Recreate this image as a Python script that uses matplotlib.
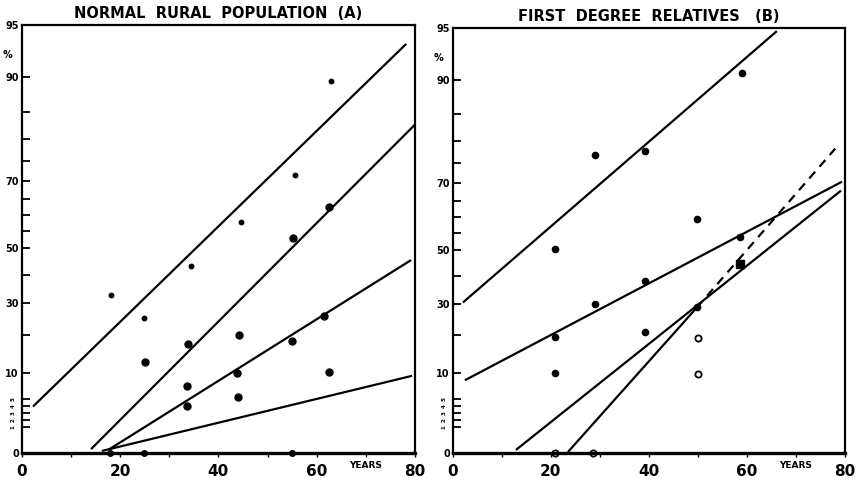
import numpy as np
import matplotlib
matplotlib.use('Agg')
from matplotlib import pyplot as plt

plt.rcParams['font.family'] = ['DejaVu Sans']
plt.rcParams['font.weight'] = 'bold'

# 手绘的概率纵轴: 百分数 -> 纸面高度
pct_knots = [0, 1, 2, 3, 4, 5, 10, 20, 30, 40, 50, 55, 60, 65, 70, 75, 80, 85, 90, 95]
pos_knots = [0, 26, 33, 40, 47, 54, 80, 118, 149, 177, 204, 221, 237, 253, 271, 291, 313, 340, 374, 426]

def fwd(y):
    return np.interp(y, pct_knots, pos_knots)

def inv(y):
    return np.interp(y, pos_knots, pct_knots)

major_pct = [0, 10, 30, 50, 70, 90, 95]
minor_pct = [1, 2, 3, 4, 5, 20, 40, 55, 60, 65, 75, 80, 85]
small_pct = [1, 2, 3, 4, 5]
age_ticks = [0, 20, 40, 60, 80]

# A: 正常农村人口
a_small_age = [18.2, 24.9, 34.4, 44.6, 55.6, 62.9]
a_small_pct = [32.9, 25.2, 43.3, 57.8, 71.5, 89.4]
a_dot_age = [25.1, 33.8, 44.2, 55.2, 62.5, 33.6, 43.8, 55.0, 61.5, 33.6, 44.0, 62.5]
a_dot_pct = [12.9, 17.6, 20.0, 52.9, 62.5, 4.0, 10.0, 18.2, 25.8, 7.5, 5.4, 10.2]
a_zero_age = [18.0, 24.9, 55.0]
a_zero_pct = [0, 0, 0]
# 拟合直线 (起点, 终点)
a_line_age = [[2.3, 78.2], [14.1, 80.0], [17.6, 79.2], [16.3, 79.4]]
a_line_pct = [[3.9, 93.2], [0.15, 82.6], [0.12, 45.6], [0.08, 9.4]]

# B: 一级亲属
b_dot_age = [59.0, 39.3, 29.0, 20.9, 49.8, 58.6, 39.2, 29.0, 20.9, 39.2, 49.8, 20.9]
b_dot_pct = [90.7, 77.7, 76.8, 50.2, 59.1, 53.8, 38.2, 30.0, 19.5, 21.0, 29.0, 10.0]
b_open_age = [50.0, 50.0, 20.9, 28.7]
b_open_pct = [19.2, 9.9, 0, 0]
b_sq_age = [58.6]
b_sq_pct = [44.8]
b_line_age = [[2.1, 66.1], [2.5, 79.4], [12.9, 79.2], [23.5, 49.8]]
b_line_pct = [[30.7, 94.7], [8.65, 70.25], [0.12, 67.8], [0.04, 29.0]]
b_dash_age = [49.8, 78.0]
b_dash_pct = [29.0, 78.2]


def setup(ax, title):
    ax.set_yscale('function', functions=(fwd, inv))
    ax.set_xlim(0, 80)
    ax.set_ylim(0, 95)
    for s in ax.spines.values():
        s.set_linewidth(1.6)
    ax.spines['bottom'].set_linewidth(2.4)
    ax.set_yticks(major_pct)
    ax.set_yticklabels([str(v) for v in major_pct], fontsize=7, fontweight='bold')
    ax.set_yticks(minor_pct, minor=True)
    ax.yaxis.set_minor_formatter(plt.NullFormatter())
    ax.tick_params(axis='y', which='both', direction='in', length=6, width=1.3, pad=2)
    ax.set_xticks(age_ticks)
    ax.set_xticklabels([str(v) for v in age_ticks], fontsize=11, fontweight='bold')
    ax.set_xticks(range(10, 80, 20), minor=True)
    ax.tick_params(axis='x', which='both', direction='out', length=3, width=1, pad=5)
    ax.text(-1.8, 92.1, '%', fontsize=7, ha='right', va='center', fontweight='bold')
    for v in small_pct:
        ax.text(-1.2, v, str(v), fontsize=4, ha='right', va='center', rotation=90)
    ax.text(70, -0.03, 'YEARS', transform=ax.get_xaxis_transform(), fontsize=6.5,
            ha='center', va='center', fontweight='bold')
    ax.set_title(title, fontsize=10.5, fontweight='bold', pad=5)


fig = plt.figure(figsize=(8.57, 4.83), dpi=100)
ax1 = fig.add_axes([0.0253, 0.062, 0.459, 0.886])
ax2 = fig.add_axes([0.5282, 0.062, 0.4578, 0.880])

setup(ax1, 'NORMAL  RURAL  POPULATION  (A)')
for xs, ys in zip(a_line_age, a_line_pct):
    ax1.plot(xs, ys, color='black', lw=1.6, solid_capstyle='butt')
ax1.plot(a_small_age, a_small_pct, 'o', color='black', ms=3.2)
ax1.plot(a_dot_age, a_dot_pct, 'o', color='black', ms=5)
ax1.plot(a_zero_age, a_zero_pct, 'o', color='black', ms=4, clip_on=False)

setup(ax2, 'FIRST  DEGREE  RELATIVES   (B)')
for xs, ys in zip(b_line_age, b_line_pct):
    ax2.plot(xs, ys, color='black', lw=1.6, solid_capstyle='butt')
ax2.plot(b_dash_age, b_dash_pct, color='black', lw=1.6, linestyle=(0, (4, 3)))
ax2.plot(b_dot_age, b_dot_pct, 'o', color='black', ms=4.5)
ax2.plot(b_open_age, b_open_pct, 'o', mfc='white', mec='black', mew=1.3, ms=4.5, clip_on=False)
ax2.plot(b_sq_age, b_sq_pct, 's', color='black', ms=6)

fig.savefig('out.png', dpi=100)
